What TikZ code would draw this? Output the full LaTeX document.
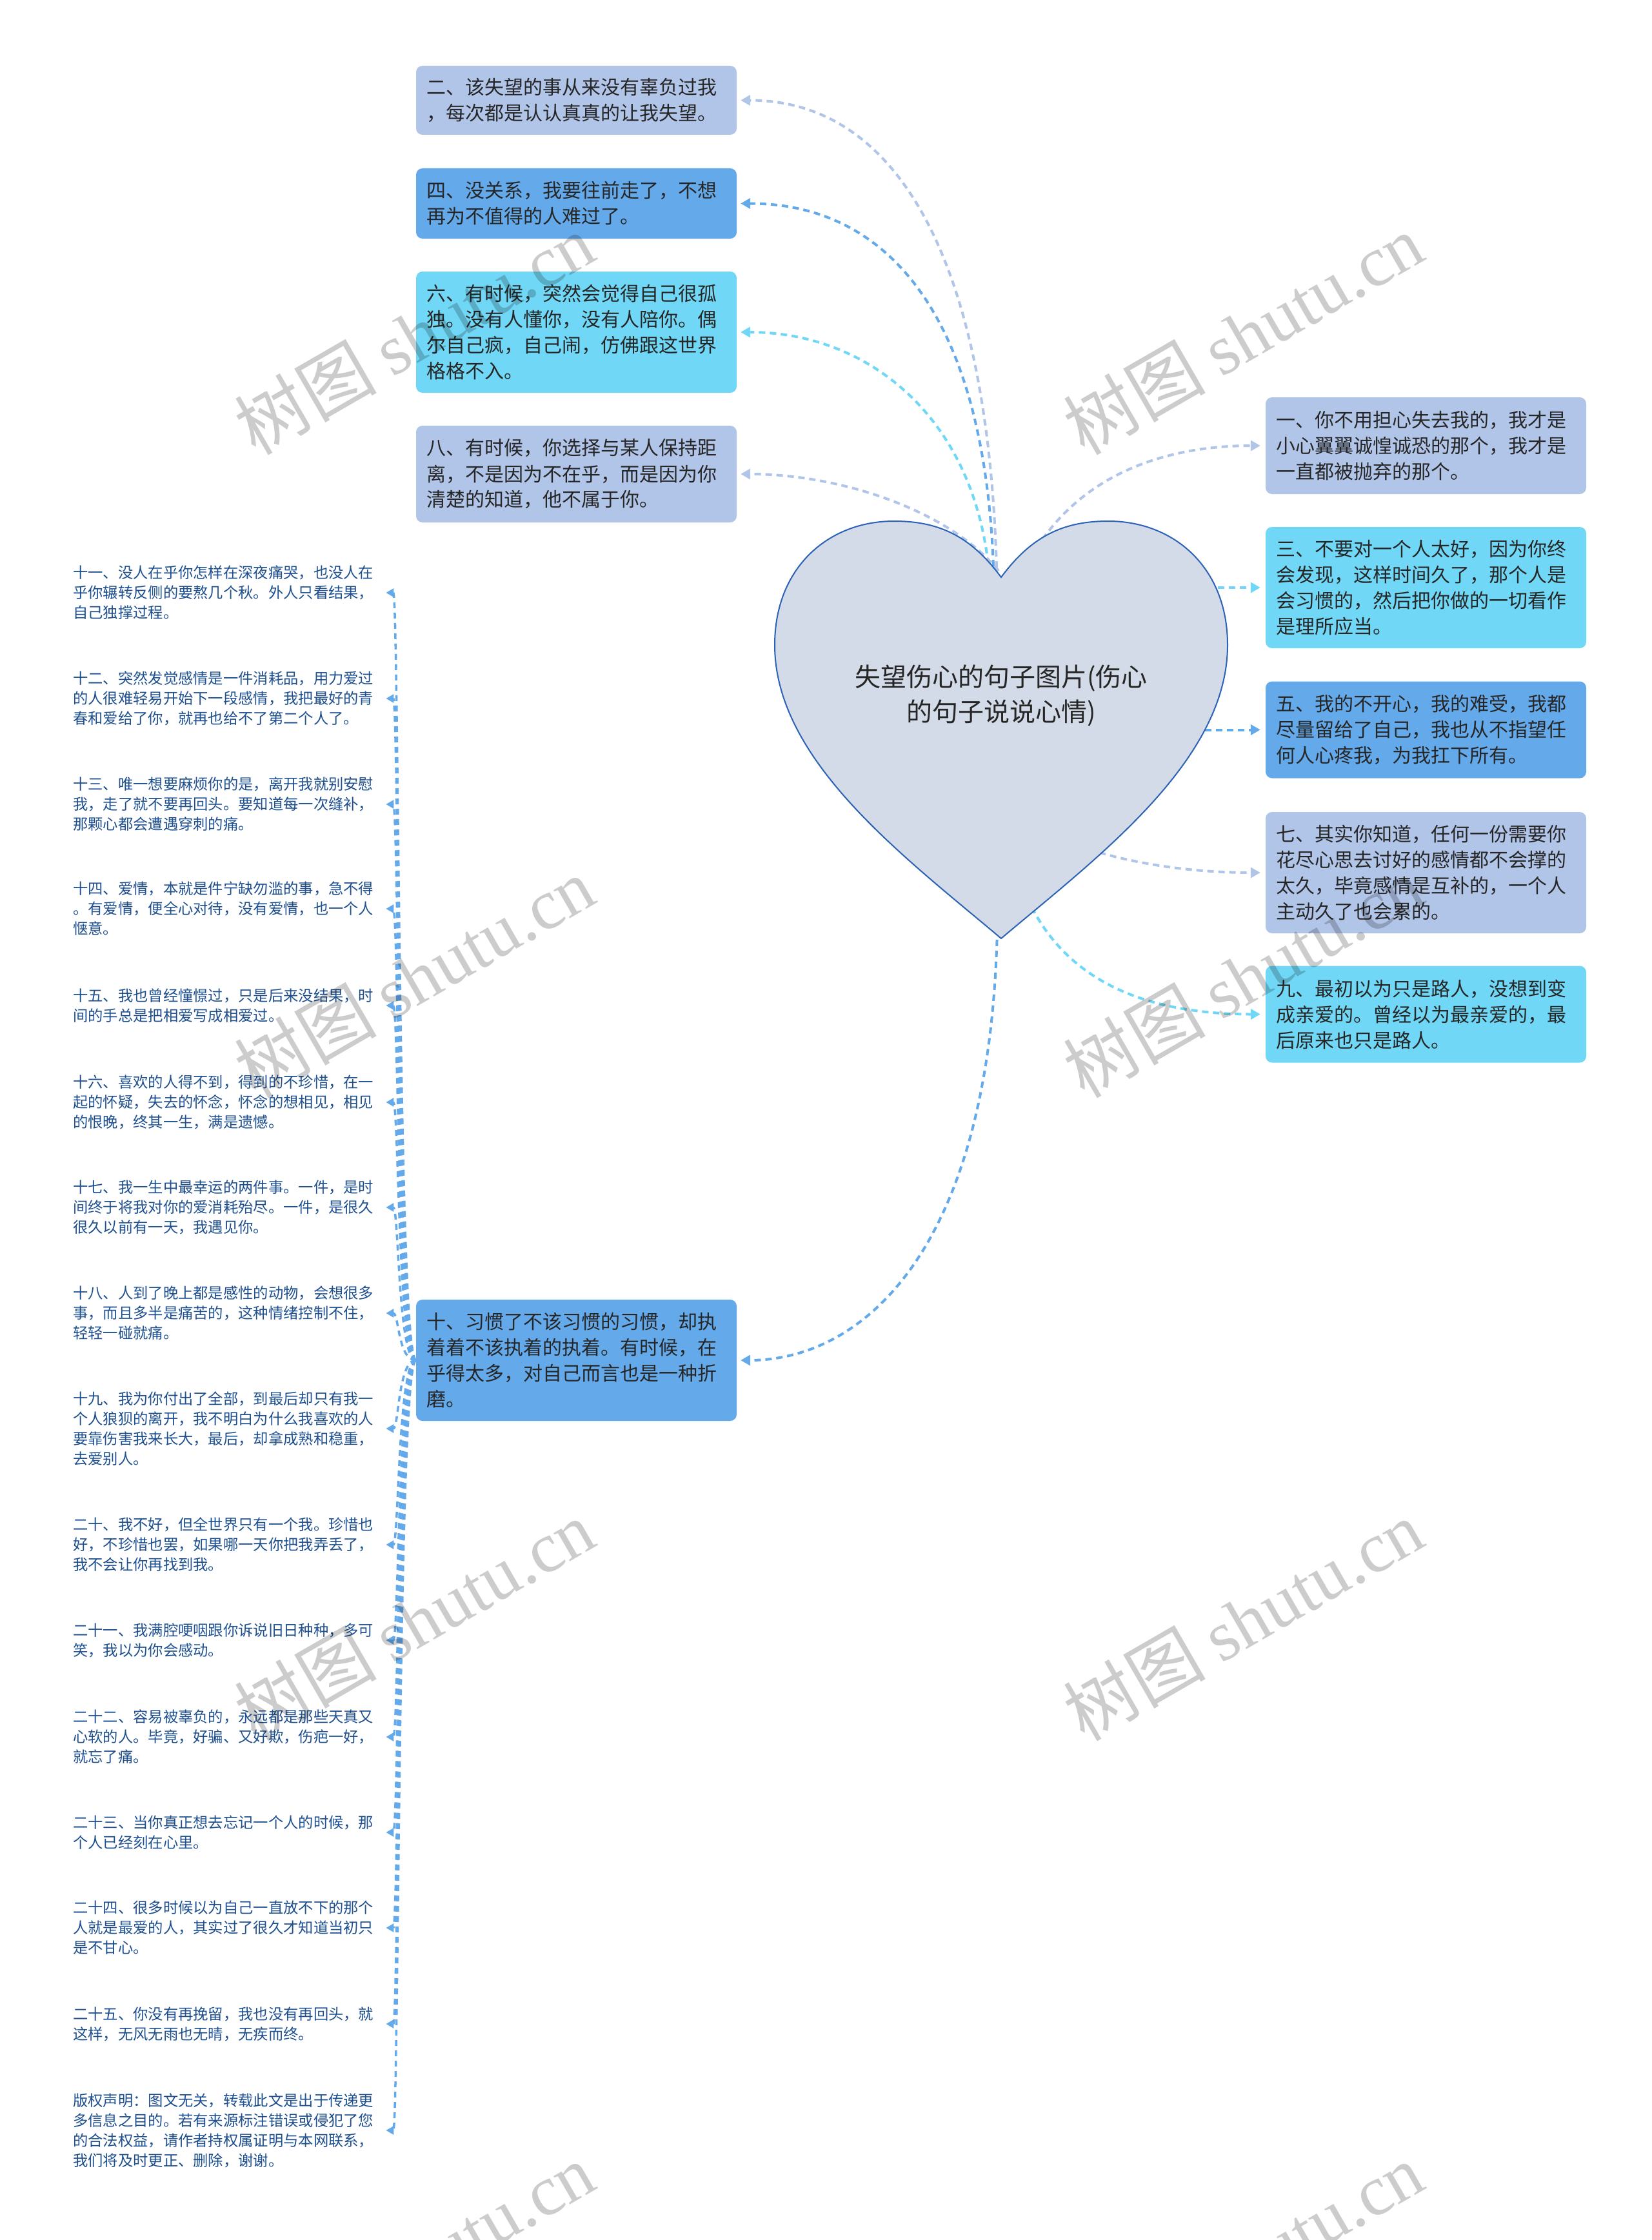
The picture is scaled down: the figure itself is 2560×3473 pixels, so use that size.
\documentclass[tikz,border=0pt]{standalone}
\usepackage{fontspec}
\setmainfont{Noto Sans CJK SC}
\newfontfamily\cjkwm{Noto Sans CJK SC}
\newfontfamily\wmser{Liberation Serif}
\usetikzlibrary{arrows.meta}
\definecolor{cpa}{HTML}{B1C5E9}
\definecolor{cpb}{HTML}{64AAEB}
\definecolor{cpc}{HTML}{70D8F6}
\definecolor{heartfill}{HTML}{D3DBE8}
\definecolor{heartline}{HTML}{2B62B5}
\definecolor{leafblue}{HTML}{1E4F8F}
\definecolor{boxtext}{HTML}{262626}
\pgfdeclarelayer{bg}
\pgfdeclarelayer{edges}
\pgfsetlayers{bg,edges,main}
\tikzset{
  box/.style={rounded corners=10pt, inner xsep=16pt, inner ysep=0pt, text width=465pt, align=left,
    font=\fontsize{30}{40}\selectfont, text=boxtext},
  ba/.style={box, fill=cpa},
  bb/.style={box, fill=cpb},
  bc/.style={box, fill=cpc},
  leaf/.style={anchor=west, inner sep=0pt, text width=485pt, align=left,
    font=\fontsize{23.3}{31}\selectfont, text=leafblue},
  edgeline/.style={line width=4pt, dash pattern=on 10pt off 7pt, -{Triangle[length=15pt,width=16pt]}, shorten >=6pt},
  leafedge/.style={draw=cpb, line width=3.5pt, dash pattern=on 9pt off 7pt, -{Triangle[length=12pt,width=13pt]}},
  wm/.style={rotate=30, text=black, text opacity=0.2, inner sep=0pt}
}
\begin{document}
\begin{tikzpicture}[x=1pt,y=-1pt]
\useasboundingbox (0,0) rectangle (2560,3473);
\begin{pgfonlayer}{bg}
\fill[white] (0,0) rectangle (2560,3473);
\end{pgfonlayer}

% heart
\draw[fill=heartfill, draw=heartline, line width=2pt]
  (1552,895) .. controls (1600,830) and (1650,808) .. (1718,808)
  .. controls (1820,808) and (1903,880) .. (1903,1000)
  .. controls (1903,1180) and (1700,1330) .. (1552,1455)
  .. controls (1404,1330) and (1201,1180) .. (1201,1000)
  .. controls (1201,880) and (1284,808) .. (1386,808)
  .. controls (1454,808) and (1504,830) .. (1552,895) -- cycle;
\node[font=\fontsize{40}{54}\selectfont, align=center, text=boxtext] (root) at (1552,1079)
  {失望伤心的句子图片(伤心\\的句子说说心情)};

% start points inside heart
\coordinate (s2) at (1545,880);
\coordinate (s4) at (1540,878);
\coordinate (s6) at (1532,875);
\coordinate (s8) at (1548,885);
\coordinate (s1) at (1590,880);
\coordinate (s3) at (1820,911);
\coordinate (s5) at (1800,1131.5);
\coordinate (s7) at (1640,1300);
\coordinate (s9) at (1580,1360);
\coordinate (s10) at (1546,1440);

% left boxes
\node[ba, minimum height=107pt] (b2) at (893.5,155.5)
  {二、该失望的事从来没有辜负过我\\，每次都是认认真真的让我失望。};
\node[bb, minimum height=109pt] (b4) at (893.5,315.5)
  {四、没关系，我要往前走了，不想\\再为不值得的人难过了。};
\node[bc, minimum height=188pt] (b6) at (893.5,515)
  {六、有时候，突然会觉得自己很孤\\独。没有人懂你，没有人陪你。偶\\尔自己疯，自己闹，仿佛跟这世界\\格格不入。};
\node[ba, minimum height=150pt] (b8) at (893.5,735)
  {八、有时候，你选择与某人保持距\\离，不是因为不在乎，而是因为你\\清楚的知道，他不属于你。};
\node[bb, minimum height=188pt] (b10) at (893.5,2109)
  {十、习惯了不该习惯的习惯，却执\\着着不该执着的执着。有时候，在\\乎得太多，对自己而言也是一种折\\磨。};

% right boxes
\node[ba, minimum height=150pt] (b1) at (2210.5,691)
  {一、你不用担心失去我的，我才是\\小心翼翼诚惶诚恐的那个，我才是\\一直都被抛弃的那个。};
\node[bc, minimum height=188pt] (b3) at (2210.5,911)
  {三、不要对一个人太好，因为你终\\会发现，这样时间久了，那个人是\\会习惯的，然后把你做的一切看作\\是理所应当。};
\node[bb, minimum height=150pt] (b5) at (2210.5,1131.5)
  {五、我的不开心，我的难受，我都\\尽量留给了自己，我也从不指望任\\何人心疼我，为我扛下所有。};
\node[ba, minimum height=188pt] (b7) at (2210.5,1353)
  {七、其实你知道，任何一份需要你\\花尽心思去讨好的感情都不会撑的\\太久，毕竟感情是互补的，一个人\\主动久了也会累的。};
\node[bc, minimum height=150pt] (b9) at (2210.5,1572.5)
  {九、最初以为只是路人，没想到变\\成亲爱的。曾经以为最亲爱的，最\\后原来也只是路人。};

% left column leaves
\node[leaf] (c11) at (113,919) {十一、没人在乎你怎样在深夜痛哭，也没人在\\乎你辗转反侧的要熬几个秋。外人只看结果，\\自己独撑过程。};
\node[leaf] (c12) at (113,1083) {十二、突然发觉感情是一件消耗品，用力爱过\\的人很难轻易开始下一段感情，我把最好的青\\春和爱给了你，就再也给不了第二个人了。};
\node[leaf] (c13) at (113,1247) {十三、唯一想要麻烦你的是，离开我就别安慰\\我，走了就不要再回头。要知道每一次缝补，\\那颗心都会遭遇穿刺的痛。};
\node[leaf] (c14) at (113,1409) {十四、爱情，本就是件宁缺勿滥的事，急不得\\。有爱情，便全心对待，没有爱情，也一个人\\惬意。};
\node[leaf] (c15) at (113,1559) {十五、我也曾经憧憬过，只是后来没结果，时\\间的手总是把相爱写成相爱过。};
\node[leaf] (c16) at (113,1709) {十六、喜欢的人得不到，得到的不珍惜，在一\\起的怀疑，失去的怀念，怀念的想相见，相见\\的恨晚，终其一生，满是遗憾。};
\node[leaf] (c17) at (113,1872) {十七、我一生中最幸运的两件事。一件，是时\\间终于将我对你的爱消耗殆尽。一件，是很久\\很久以前有一天，我遇见你。};
\node[leaf] (c18) at (113,2036) {十八、人到了晚上都是感性的动物，会想很多\\事，而且多半是痛苦的，这种情绪控制不住，\\轻轻一碰就痛。};
\node[leaf] (c19) at (113,2215) {十九、我为你付出了全部，到最后却只有我一\\个人狼狈的离开，我不明白为什么我喜欢的人\\要靠伤害我来长大，最后，却拿成熟和稳重，\\去爱别人。};
\node[leaf] (c20) at (113,2395) {二十、我不好，但全世界只有一个我。珍惜也\\好，不珍惜也罢，如果哪一天你把我弄丢了，\\我不会让你再找到我。};
\node[leaf] (c21) at (113,2543) {二十一、我满腔哽咽跟你诉说旧日种种，多可\\笑，我以为你会感动。};
\node[leaf] (c22) at (113,2693) {二十二、容易被辜负的，永远都是那些天真又\\心软的人。毕竟，好骗、又好欺，伤疤一好，\\就忘了痛。};
\node[leaf] (c23) at (113,2841) {二十三、当你真正想去忘记一个人的时候，那\\个人已经刻在心里。};
\node[leaf] (c24) at (113,2989) {二十四、很多时候以为自己一直放不下的那个\\人就是最爱的人，其实过了很久才知道当初只\\是不甘心。};
\node[leaf] (c25) at (113,3138) {二十五、你没有再挽留，我也没有再回头，就\\这样，无风无雨也无晴，无疾而终。};
\node[leaf] (c26) at (113,3303) {版权声明：图文无关，转载此文是出于传递更\\多信息之目的。若有来源标注错误或侵犯了您\\的合法权益，请作者持权属证明与本网联系，\\我们将及时更正、删除，谢谢。};

% edges
\begin{pgfonlayer}{edges}
\draw[edgeline, draw=cpa] (s2) .. controls (1530,380) and (1380,155.5) .. (b2.east);
\draw[edgeline, draw=cpb] (s4) .. controls (1525,480) and (1370,315.5) .. (b4.east);
\draw[edgeline, draw=cpc] (s6) .. controls (1505,640) and (1340,515) .. (b6.east);
\draw[edgeline, draw=cpa] (s8) .. controls (1470,790) and (1300,735) .. (b8.east);
\draw[edgeline, draw=cpa, shorten >=8pt] (s1) .. controls (1660,740) and (1800,691) .. (b1.west);
\draw[edgeline, draw=cpc, shorten >=8pt] (s3) -- (b3.west);
\draw[edgeline, draw=cpb, shorten >=8pt] (s5) -- (b5.west);
\draw[edgeline, draw=cpa, shorten >=8pt] (s7) .. controls (1740,1340) and (1850,1353) .. (b7.west);
\draw[edgeline, draw=cpc, shorten >=8pt] (s9) .. controls (1630,1510) and (1760,1572.5) .. (b9.west);
\draw[edgeline, draw=cpb] (s10) .. controls (1535,1950) and (1330,2109) .. (b10.east);
\foreach \c in {c11,c12,c13,c14,c15,c16,c17,c18,c19,c20,c21,c22,c23,c24,c25,c26}
  \draw[leafedge] (b10.west) .. controls +(-28,0) and +(20,0) .. (\c.east);
\end{pgfonlayer}

% watermarks
\foreach \wx/\wy [count=\i] in {642/518, 1927/518, 642/1515, 1927/1515, 642/2512, 1927/2512, 642/3509, 1927/3509}
  \node[wm] (wm\i) at (\wx,\wy) {\fontsize{110}{110}\selectfont\cjkwm 树图 \wmser shutu.cn};
\end{tikzpicture}
\end{document}
